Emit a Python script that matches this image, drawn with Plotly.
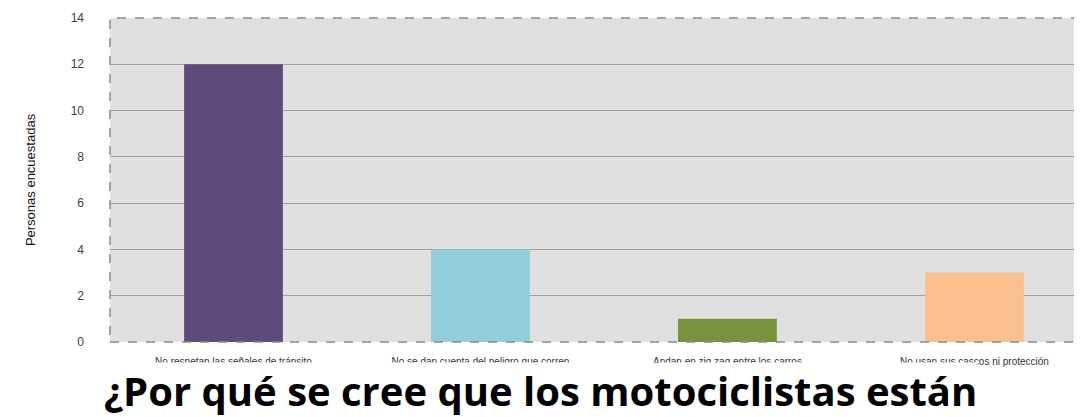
import plotly.graph_objects as go

categories = [
    "No respetan las señales de tránsito",
    "No se dan cuenta del peligro que corren",
    "Andan en zig zag entre los carros",
    "No usan sus cascos ni protección",
]
values = [12, 4, 1, 3]
bar_colors = ["#604a7b", "#92cddc", "#77933c", "#fac090"]
y_ticks = [0, 2, 4, 6, 8, 10, 12, 14]
y_title = "Personas encuestadas"
chart_title = "¿Por qué se cree que los motociclistas están"

fig = go.Figure()
fig.add_trace(go.Bar(
    x=categories, y=values,
    marker=dict(color=bar_colors, line=dict(width=0)),
    width=0.4,
))

fig.update_layout(
    width=1082, height=417,
    margin=dict(l=102, r=0, t=10, b=83, autoexpand=False),
    paper_bgcolor="white",
    plot_bgcolor="#e0e0e0",
    showlegend=False,
    bargap=0.6,
    font=dict(family="Liberation Sans", color="#404040"),
)
fig.update_xaxes(
    range=[-0.5, 3.468], automargin=False,
    showgrid=False, showline=False, zeroline=False,
    tickfont=dict(size=10, color="#333333"),
    ticks="", ticklabelstandoff=12,
)
fig.update_yaxes(
    range=[0, 14], tickvals=y_ticks, automargin=False,
    showgrid=True, gridcolor="#a0a0a0", gridwidth=1,
    zeroline=False, showline=False,
    ticks="", ticklabelstandoff=25,
    tickfont=dict(size=12, color="#404040"),
    title=dict(text=y_title, font=dict(size=13, color="#111111"), standoff=32),
)
fig.add_shape(type="rect", xref="paper", yref="paper", x0=0, x1=1, y0=0, y1=1,
              line=dict(color="#8a8a8a", width=1.5, dash="dash"), layer="above")
fig.add_annotation(
    text="<b>" + chart_title + "</b>",
    xref="paper", yref="paper", x=-0.007, y=-0.149,
    xanchor="left", yanchor="middle", showarrow=False,
    font=dict(family="Open Sans", size=40, color="#000000"),
    bgcolor="white", borderpad=0,
)
fig.write_html("out.html")
